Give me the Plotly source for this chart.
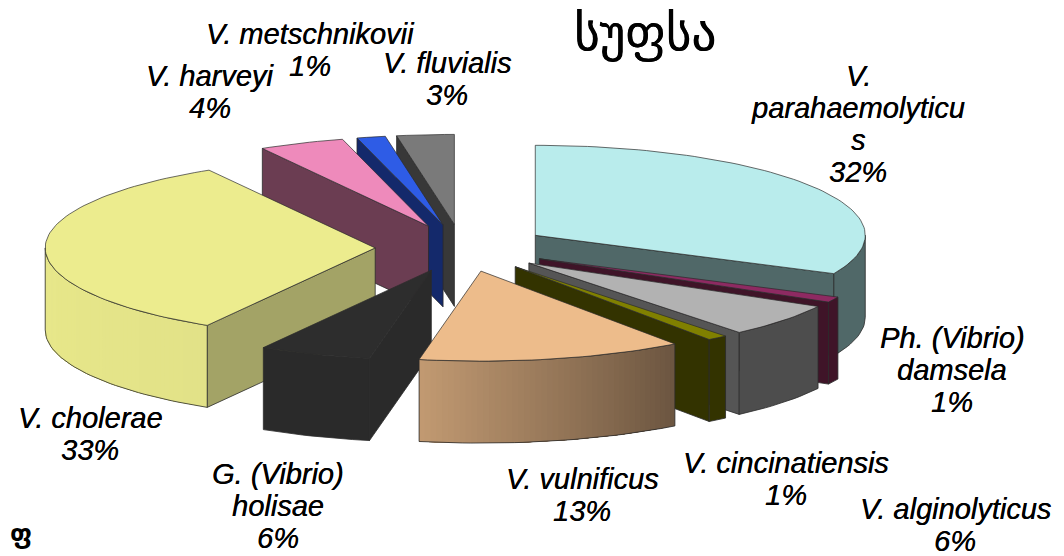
import math
import plotly.graph_objects as go

# --- data ---
species = ["V.<br>parahaemolyticu<br>s", "Ph. (Vibrio)<br>damsela", "V. alginolyticus",
           "V. cincinatiensis", "V. vulnificus", "G. (Vibrio)<br>holisae", "V. cholerae",
           "V. harveyi", "V. metschnikovii", "V. fluvialis"]
# slice sizes; the printed percentages are rounded
shares = [32, 1, 6, 1, 13, 5.5, 33.1, 4.2, 1.4, 2.8]
percent_labels = ["32%", "1%", "6%", "1%", "13%", "6%", "33%", "4%", "1%", "3%"]
top_colors = ["#B9ECEC", "#8E2A62", "#B2B2B2", "#808000", "#EDBC8B", "#2D2D2D", "#ECEC8E", "#EE8ABB", "#2E5CE6", "#7A7A7A"]
cut_colors = ["#506868", "#3F1428", "#555555", "#333300", "#6B5540", "#2A2A2A", "#A3A366", "#6B3D52", "#14296B", "#383838"]
wall_from = ["#506868", "#3F1428", "#4D4D4D", "#333300", "#6B5540", "#2A2A2A", "#E2E288", "#6B3D52", "#14296B", "#383838"]
wall_to = ["#506868", "#3F1428", "#4D4D4D", "#333300", "#C29A72", "#2A2A2A", "#E8E88A", "#6B3D52", "#14296B", "#383838"]
label_centers = [(858, 124), (952, 370), (955, 525), (786, 479), (582, 495),
                 (278, 506), (90, 434), (210, 92), (310, 50), (447, 79)]
title_text = "სუფსა"
corner_text = "ფ"

# --- projection of the exploded pie ---
CX, CY, RX, RY, THICK, EXPLODE = 462, 248, 330, 90, 82, 0.263
EDGE = "#2b2b2b"
LINE_GAP = 32


def hex_mix(a, b, t):
    pa = [int(a[i:i + 2], 16) for i in (1, 3, 5)]
    pb = [int(b[i:i + 2], 16) for i in (1, 3, 5)]
    return "rgb(%d,%d,%d)" % tuple(round(u + (v - u) * t) for u, v in zip(pa, pb))


def rim(ax, ay, deg):
    r = math.radians(deg)
    return ax + RX * math.sin(r), ay - RY * math.cos(r)


def arc(ax, ay, a0, a1):
    n = max(2, int(abs(a1 - a0) / 1.5) + 1)
    return [rim(ax, ay, a0 + (a1 - a0) * i / (n - 1)) for i in range(n)]


fig = go.Figure()


def poly(pts, fill, line=EDGE, width=0.8):
    fig.add_trace(go.Scatter(
        x=[p[0] for p in pts] + [pts[0][0]], y=[p[1] for p in pts] + [pts[0][1]],
        mode="lines", fill="toself", fillcolor=fill,
        line=dict(color=line, width=width), hoverinfo="skip", showlegend=False))


total = sum(shares)
slices = []
running = 0
for i, s in enumerate(shares):
    a0 = 360 * running / total
    a1 = 360 * (running + s) / total
    running += s
    slices.append((i, a0, a1))

slices.sort(key=lambda t: -math.cos(math.radians((t[1] + t[2]) / 2)))


def down(p):
    return p[0], p[1] + THICK


for i, a0, a1 in slices:
    mid = math.radians((a0 + a1) / 2)
    ax = CX + EXPLODE * RX * math.sin(mid)
    ay = CY - EXPLODE * RY * math.cos(mid)

    # cut faces that look toward the viewer
    if math.cos(math.radians(a0 - 90)) < -1e-6:
        e = rim(ax, ay, a0)
        poly([(ax, ay), e, down(e), down((ax, ay))], cut_colors[i])
    if math.cos(math.radians(a1 + 90)) < -1e-6:
        e = rim(ax, ay, a1)
        poly([(ax, ay), e, down(e), down((ax, ay))], cut_colors[i])

    # outer wall on the front half of the rim
    w0, w1 = max(a0, 90), min(a1, 270)
    if w1 > w0:
        if wall_from[i] != wall_to[i]:
            # each band reaches to the wall's end, so later bands paint over it without seams
            n = max(1, int((w1 - w0) / 1.0))
            for k in range(n):
                b0 = w0 + (w1 - w0) * k / n
                band = arc(ax, ay, b0, w1)
                c = hex_mix(wall_from[i], wall_to[i], (k + 0.5) / n)
                poly(band + [down(p) for p in reversed(band)], c, line=c, width=0)
            outline = arc(ax, ay, w0, w1)
            poly(outline + [down(p) for p in reversed(outline)], "rgba(0,0,0,0)")
        else:
            outline = arc(ax, ay, w0, w1)
            poly(outline + [down(p) for p in reversed(outline)], wall_from[i])

    # top face
    poly([(ax, ay)] + arc(ax, ay, a0, a1), top_colors[i], width=0.7)

font = dict(family="Liberation Sans, Arial, sans-serif", size=29, color="#000000",
            shadow="0.3px 0 0 #000000")
for name, pct, (lx, ly) in zip(species, percent_labels, label_centers):
    lines = name.split("<br>") + [pct]
    for k, line in enumerate(lines):
        fig.add_annotation(x=lx, y=ly + (k - (len(lines) - 1) / 2) * LINE_GAP, xref="x", yref="y",
                           showarrow=False, text=f"<i>{line}</i>", font=font,
                           xanchor="center", yanchor="middle")

fig.add_annotation(x=645, y=33, xref="x", yref="y", showarrow=False, text=title_text,
                   font=dict(family="DejaVu Sans", size=49, color="#000000", shadow="0.4px 0 0 #000000"))
fig.add_annotation(x=21, y=534, xref="x", yref="y", showarrow=False, text=f"<b>{corner_text}</b>",
                   font=dict(family="DejaVu Sans", size=26, color="#000000"))

fig.update_xaxes(range=[0, 1064], visible=False, fixedrange=True)
fig.update_yaxes(range=[556, 0], visible=False, fixedrange=True)
fig.update_layout(width=1064, height=556, margin=dict(l=0, r=0, t=0, b=0),
                  paper_bgcolor="white", plot_bgcolor="white", showlegend=False)
fig.write_html("out.html", config={"displayModeBar": False},
               post_script="document.body.style.margin='0';")
